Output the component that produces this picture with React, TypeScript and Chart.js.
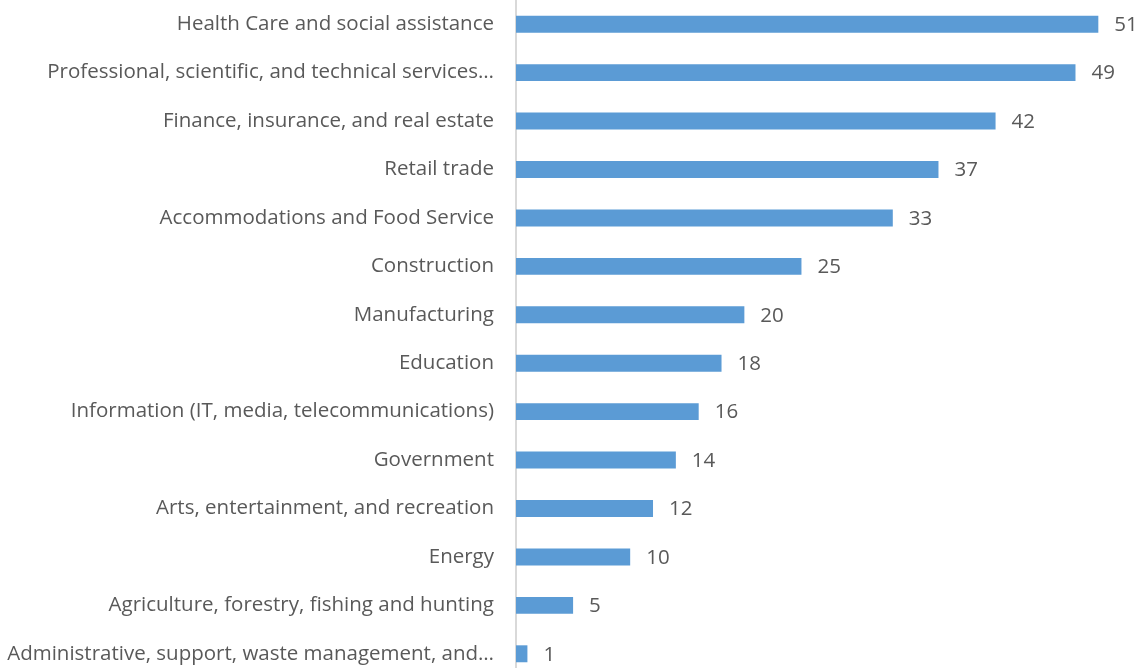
import React, { useEffect, useRef } from "react";
import { Chart, registerables } from "chart.js";

Chart.register(...registerables);

const categories: string[] = [
  "Health Care and social assistance",
  "Professional, scientific, and technical services…",
  "Finance, insurance, and real estate",
  "Retail trade",
  "Accommodations and Food Service",
  "Construction",
  "Manufacturing",
  "Education",
  "Information (IT, media, telecommunications)",
  "Government",
  "Arts, entertainment, and recreation",
  "Energy",
  "Agriculture, forestry, fishing and hunting",
  "Administrative, support, waste management, and…",
];

const values: number[] = [51, 49, 42, 37, 33, 25, 20, 18, 16, 14, 12, 10, 5, 1];

const xMin = 0;
const xMax = 55;

const FONT = "'Open Sans', 'Segoe UI', sans-serif";
const FONT_SIZE = 20.5;
const TEXT_COLOR = "#595959";

const dataLabelPlugin = {
  id: "dataLabels",
  afterDatasetsDraw(chart: any) {
    const ctx = chart.ctx;
    const meta = chart.getDatasetMeta(0);
    ctx.save();
    ctx.font = `${FONT_SIZE}px ${FONT}`;
    ctx.fillStyle = TEXT_COLOR;
    ctx.textAlign = "left";
    ctx.textBaseline = "middle";
    meta.data.forEach((bar: any, i: number) => {
      ctx.fillText(String(values[i]), bar.x + 16, bar.y + 1);
    });
    ctx.restore();
  },
};

export default function App() {
  const canvasRef = useRef<HTMLCanvasElement | null>(null);

  useEffect(() => {
    if (!canvasRef.current) return;
    const chart = new Chart(canvasRef.current, {
      type: "bar",
      data: {
        labels: categories,
        datasets: [
          {
            data: values,
            backgroundColor: "#5B9BD5",
            borderWidth: 0,
            barPercentage: 0.35,
            categoryPercentage: 1,
          },
        ],
      },
      options: {
        indexAxis: "y",
        animation: false,
        responsive: true,
        maintainAspectRatio: false,
        layout: { padding: 0 },
        plugins: {
          legend: { display: false },
          tooltip: { enabled: false },
        },
        scales: {
          x: {
            min: xMin,
            max: xMax,
            display: false,
          },
          y: {
            grid: { display: false, drawTicks: false },
            border: { display: true, color: "#d9d9d9", width: 2 },
            ticks: {
              padding: 22,
              color: TEXT_COLOR,
              font: { family: FONT, size: FONT_SIZE },
              autoSkip: false,
            },
            afterFit(scale: any) {
              scale.width = 516;
              scale.paddingTop = 0;
              scale.paddingBottom = 0;
            },
          },
        },
      },
      plugins: [dataLabelPlugin],
    });
    return () => chart.destroy();
  }, []);

  return (
    <div
      style={{
        position: "fixed",
        left: 0,
        top: 0,
        width: 1144,
        height: 678,
        background: "#fff",
      }}
    >
      <canvas ref={canvasRef} />
    </div>
  );
}
